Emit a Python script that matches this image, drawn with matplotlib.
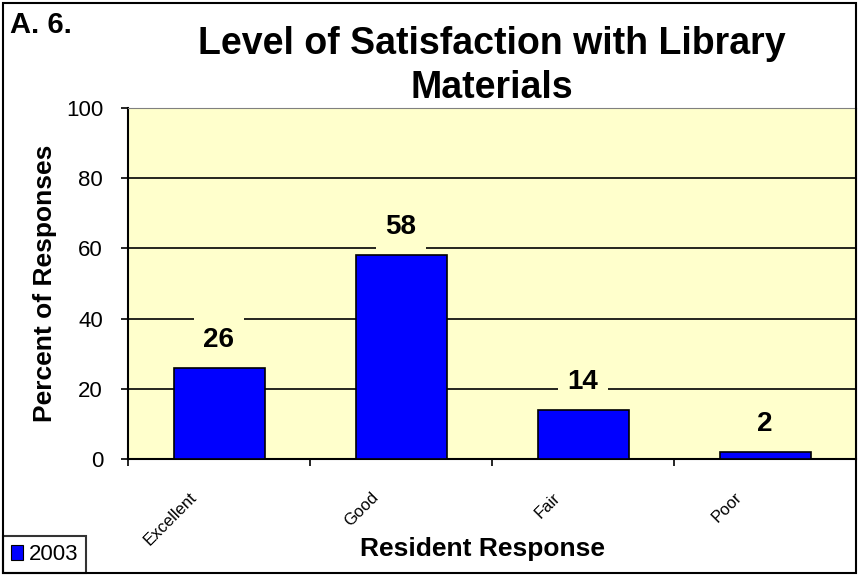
import matplotlib
matplotlib.use("Agg")
import matplotlib.pyplot as plt
import matplotlib.transforms as mtransforms
from matplotlib.patches import Rectangle

categories = ["Excellent", "Good", "Fair", "Poor"]
values_2003 = [26, 58, 14, 2]
yticks = [0, 20, 40, 60, 80, 100]

plt.rcParams["font.family"] = ["Liberation Sans", "DejaVu Sans"]

BG = "#FFFFCC"
fig = plt.figure(figsize=(8.59, 5.77), dpi=100)
ax = fig.add_axes([128 / 859, 1 - 459 / 577, 728 / 859, 351 / 577])
ax.set_facecolor(BG)

x = list(range(len(categories)))
ax.bar(x, values_2003, width=0.5, color="#0000FF", edgecolor="black",
       linewidth=1.2, zorder=3)

ax.set_xlim(-0.5, len(categories) - 0.5)
ax.set_ylim(0, 100)
ax.set_yticks(yticks)
ax.yaxis.grid(True, color="black", linewidth=1.2, zorder=1)
ax.set_axisbelow(True)

# value labels with background hiding the gridlines
for xi, v in zip(x, values_2003):
    ax.text(xi, v + 8.0, str(v), ha="center", va="center", fontsize=20,
            fontweight="bold", zorder=4,
            bbox=dict(facecolor=BG, edgecolor="none", pad=7))

# category labels, rotated and offset like the original
ax.set_xticks(x)
ax.set_xticklabels([])
shift = mtransforms.ScaledTranslation(-0.25, -0.36, fig.dpi_scale_trans)
for xi, cat in zip(x, categories):
    ax.text(xi, 0, cat, rotation=45, ha="right", va="center",
            rotation_mode="anchor", fontsize=12,
            transform=ax.get_xaxis_transform() + shift, clip_on=False)
ax.set_xticks([i - 0.5 for i in range(len(categories) + 1)], minor=True)
ax.tick_params(axis="x", which="major", length=0)
ax.tick_params(axis="x", which="minor", length=5, width=1.2, direction="out")
ax.tick_params(axis="y", labelsize=16, length=5, width=1.2, direction="out",
               pad=13)

for side in ["top", "right"]:
    ax.spines[side].set_color("#808080")
for side in ["left", "bottom"]:
    ax.spines[side].set_color("black")
    ax.spines[side].set_linewidth(1.5)

ax.set_ylabel("Percent of Responses", fontsize=19, fontweight="bold", labelpad=6)
fig.text(483 / 859, 1 - 549 / 577, "Resident Response", ha="center", va="center",
         fontsize=19, fontweight="bold")

fig.text(492 / 859, 1 - 66 / 577, "Level of Satisfaction with Library\nMaterials",
         ha="center", va="center", fontsize=27, fontweight="bold",
         linespacing=1.25)
fig.text(10 / 859, 1 - 25 / 577, "A. 6.", ha="left", va="center", fontsize=21,
         fontweight="bold")

# outer frame
fig.patches.append(Rectangle((3 / 859, 4 / 577), 853 / 859, 570 / 577,
                             transform=fig.transFigure, fill=False,
                             edgecolor="black", linewidth=1.5))

# legend box
leg = ax.legend(["2003"], loc="lower left", bbox_to_anchor=(3 / 859, 4 / 577),
                bbox_transform=fig.transFigure, fontsize=16, frameon=True,
                fancybox=False, edgecolor="black", handlelength=0.55,
                handleheight=0.7, handletextpad=0.25, borderpad=0.35,
                borderaxespad=0)
leg.get_frame().set_linewidth(1.5)
for h in leg.legend_handles:
    h.set_edgecolor("black")
    h.set_linewidth(0.8)

fig.savefig("out.png", dpi=100)
